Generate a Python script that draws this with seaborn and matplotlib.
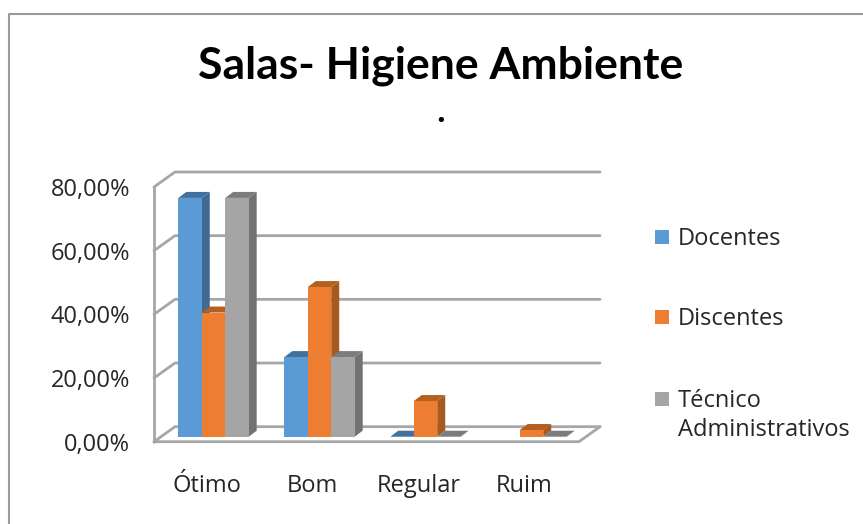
import matplotlib
matplotlib.use("Agg")
import matplotlib.pyplot as plt
from matplotlib.patches import Polygon, Rectangle
from matplotlib.transforms import Affine2D, ScaledTranslation
import pandas as pd
import seaborn as sns

categorias = ["Ótimo", "Bom", "Regular", "Ruim"]
docentes = [75.0, 25.0, 0.0, None]
discentes = [39.0, 47.0, 11.2, 2.1]
tecnicos = [75.0, 25.0, 0.0, 0.0]
series = ["Docentes", "Discentes", "Técnico\nAdministrativos"]
y_ticks = [0, 20, 40, 60, 80]
y_labels = ["0,00%", "20,00%", "40,00%", "60,00%", "80,00%"]

cores = ["#5B9BD5", "#ED7D31", "#A5A5A5"]
cores_lado = ["#3E6A94", "#A65A20", "#727272"]
cores_topo = ["#41719C", "#B5601F", "#7C7C7C"]
cor_grade = "#A6A6A6"
cor_texto = "#262626"
fonte = ["Open Sans", "DejaVu Sans"]

W, H = 863, 524
DEPTH_X, DEPTH_Y = 8, 6       # depth of the 3D bars, px
WALL_X, WALL_Y = 21, 15       # depth of the chart walls, px
FRONT_DROP = 5                # front floor edge sits below bar base, px

sns.set_theme(style="white")
plt.rcParams["font.family"] = fonte

fig = plt.figure(figsize=(W / 100, H / 100), dpi=100)
# axes box runs from x 160.5 to 584.5, y 436.7 (0%) to 182 (80%)
ax = fig.add_axes([160.5 / W, 1 - 436.7 / H, 424 / W, 254.7 / H])

df = pd.DataFrame({
    "categoria": categorias * 3,
    "serie": [s for s in series for _ in categorias],
    "valor": docentes + discentes + tecnicos,
})
sns.barplot(data=df, x="categoria", y="valor", hue="serie", hue_order=series, palette=cores,
            saturation=1, width=0.664, legend=False, ax=ax, zorder=5, linewidth=0, edgecolor="none")
ax.set_xlim(-0.5, 3.5)
ax.set_ylim(0, 80)
ax.set_xlabel("")
ax.set_ylabel("")
sns.despine(ax=ax, left=True, bottom=True)
ax.patch.set_alpha(0)

px = Affine2D().scale(1, -1).translate(0, H)  # picture pixels, y downwards


def to_px(x, y):
    dx, dy = ax.transData.transform((x, y))
    return dx, H - dy


# walls and floor, built from the y scale
x_left = to_px(-0.5, 0)[0] - 6.5
x_right = x_left + 425
for t in y_ticks:
    y_front = to_px(0, t)[1] + FRONT_DROP
    y_back = y_front - WALL_Y
    ax.plot([x_left, x_left + WALL_X, x_right + WALL_X], [y_front, y_back, y_back],
            color=cor_grade, lw=2, transform=px, clip_on=False, zorder=1)
y0 = to_px(0, 0)[1] + FRONT_DROP
y80 = to_px(0, 80)[1] + FRONT_DROP
ax.plot([x_left, x_left], [y80, y0], color=cor_grade, lw=2, transform=px, clip_on=False, zorder=1)
ax.plot([x_left, x_right, x_right + WALL_X], [y0, y0, y0 - WALL_Y], color=cor_grade, lw=2,
        transform=px, clip_on=False, zorder=1)

# side and top faces of each bar, taken from the bars seaborn drew
for i, cont in enumerate(ax.containers):
    for j, bar in enumerate(cont.patches):
        if pd.isna(bar.get_height()):
            continue
        z = 5 + j * 10 + i * 2
        bar.set_zorder(z + 1)
        x0, y1 = to_px(bar.get_x(), bar.get_height())
        x1, yb = to_px(bar.get_x() + bar.get_width(), 0)
        side = [(x1, y1), (x1 + DEPTH_X, y1 - DEPTH_Y), (x1 + DEPTH_X, yb - DEPTH_Y), (x1, yb)]
        top = [(x0, y1), (x0 + DEPTH_X, y1 - DEPTH_Y), (x1 + DEPTH_X, y1 - DEPTH_Y), (x1, y1)]
        ax.add_patch(Polygon(side, color=cores_lado[i], lw=0, transform=px, clip_on=False, zorder=z))
        ax.add_patch(Polygon(top, color=cores_topo[i], lw=0, transform=px, clip_on=False, zorder=z))

# tick labels sit on the front edge, not on the bar base
ax.set_yticks(y_ticks)
ax.set_yticklabels(y_labels)
ax.tick_params(axis="y", length=0, pad=22, labelsize=17, labelcolor=cor_texto)
ax.tick_params(axis="x", length=0, pad=27, labelsize=17, labelcolor=cor_texto)
for lab in ax.get_yticklabels():
    lab.set_transform(lab.get_transform() + ScaledTranslation(0, -FRONT_DROP / 100, fig.dpi_scale_trans))
for lab in ax.get_xticklabels():
    lab.set_transform(lab.get_transform() + ScaledTranslation(-7 / 100, 0, fig.dpi_scale_trans))

# title
fig.text(441 / W, 1 - 66 / H, "Salas- Higiene Ambiente", fontsize=32, fontweight="bold",
         family=["Lato", "DejaVu Sans"], color="black", ha="center", va="center")
fig.text(441 / W, 1 - 114 / H, ".", fontsize=22, fontweight="bold", color="black",
         ha="center", va="center")

# legend
leg_y = [237, 317, 399]
for nome, cor, y in zip(series, cores, leg_y):
    fig.add_artist(Rectangle((655 / W, 1 - (y + 7) / H), 14 / W, 14 / H, color=cor, lw=0,
                             transform=fig.transFigure))
    fig.text(678 / W, 1 - (y - 10) / H, nome, fontsize=17, color=cor_texto, ha="left", va="top",
             linespacing=1.3)

# chart border
fig.add_artist(plt.Line2D([8.5 / W, 8.5 / W, 1], [0, 1 - 14 / H, 1 - 14 / H], color="#9A9A9A", lw=1.5))

fig.savefig("out.png", dpi=100, facecolor="white")
